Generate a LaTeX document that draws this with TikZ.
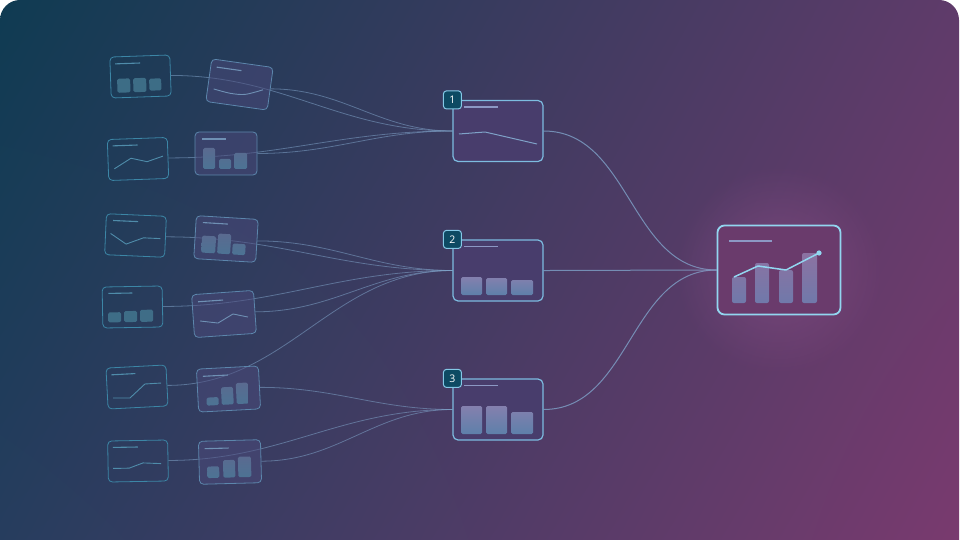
\documentclass[tikz,border=0pt]{standalone}
\usepackage{fontspec}
\setsansfont{Open Sans}
\usetikzlibrary{fadings}
\usetikzlibrary{shadings}
\usetikzlibrary{backgrounds}

\definecolor{bgul}{HTML}{0F3B52}
\definecolor{bgur}{HTML}{5F3B6A}
\definecolor{bgll}{HTML}{283D5F}
\definecolor{bglr}{HTML}{7B3A6F}
\definecolor{rawedge}{HTML}{3C86A6}
\definecolor{rawink}{HTML}{4F8CAA}
\definecolor{rawbar}{HTML}{43768F}
\definecolor{prepedge}{HTML}{5C86AC}
\definecolor{prepfill}{HTML}{4C4A7C}
\definecolor{prepink}{HTML}{6F90B4}
\definecolor{prepbartop}{HTML}{5A6A90}
\definecolor{prepbarbot}{HTML}{4C7394}
\definecolor{flowline}{HTML}{7FA2C8}
\definecolor{midedge}{HTML}{7DBCE0}
\definecolor{midfill}{HTML}{483D6C}
\definecolor{midink}{HTML}{8C98C4}
\definecolor{midbartop}{HTML}{8480AE}
\definecolor{midbarbot}{HTML}{5E80AA}
\definecolor{badgefill}{HTML}{0D4A63}
\definecolor{badgeedge}{HTML}{84C8E6}
\definecolor{resedge}{HTML}{92D6F0}
\definecolor{resfill}{HTML}{6A3B6C}
\definecolor{resbartop}{HTML}{8C72A2}
\definecolor{resbarbot}{HTML}{7079AA}
\definecolor{glow}{HTML}{A05A98}

\tikzfading[name=glowfade, inner color=transparent!60, outer color=transparent!100]

\tikzset{
  rawcard/.style={draw=rawedge, line width=0.8pt, rounded corners=4pt,
    minimum width=60pt, minimum height=41pt, inner sep=0pt},
  prepcard/.style={rawcard, draw=prepedge, fill=prepfill, fill opacity=0.5,
    minimum width=62pt, minimum height=43pt},
  midcard/.style={draw=midedge, line width=1.2pt, rounded corners=5pt, fill=midfill,
    minimum width=90pt, minimum height=61pt, inner sep=0pt},
  badge/.style={draw=badgeedge, fill=badgefill, line width=1pt, rounded corners=3pt,
    minimum size=18pt, inner sep=0pt, text=white,
    font=\sffamily\fontsize{10.5}{10.5}\selectfont},
  rescard/.style={draw=resedge, line width=1.8pt, rounded corners=7pt, fill=resfill,
    minimum width=123pt, minimum height=89pt, inner sep=0pt},
  flow/.style={draw=flowline, line width=0.8pt, draw opacity=0.55},
  feed/.style={draw=flowline, line width=1pt, draw opacity=0.8},
  rawtitle/.style={draw=rawink, line width=1.1pt},
  rawplot/.style={draw=rawink, line width=0.9pt, line join=round},
  rawbars/.style={fill=rawbar, fill opacity=0.85, rounded corners=1.5pt},
  preptitle/.style={draw=prepink, line width=1.1pt},
  prepplot/.style={draw=prepink, line width=0.9pt, line join=round},
  prepbars/.style={top color=prepbartop, bottom color=prepbarbot, rounded corners=1.5pt},
  midtitle/.style={draw=midink, line width=1.2pt},
  midplot/.style={draw=flowline, line width=1pt, line join=round},
  midbars/.style={top color=midbartop, bottom color=midbarbot, rounded corners=1.5pt},
  restitle/.style={draw=midink, line width=1.3pt},
  resbars/.style={top color=resbartop, bottom color=resbarbot, rounded corners=2pt},
  resplot/.style={draw=resedge, line width=1.5pt, line join=round},
}

\begin{document}
\begin{tikzpicture}[x=1pt, y=-1pt]
\useasboundingbox (0,0) rectangle (960,540);

% raw sources
\node[rawcard, rotate=2] (a1) at (140.5,76.5) {};
\begin{scope}[shift={(a1.center)}, rotate=2]
  \draw[rawtitle] (-25,-13.5) -- (0,-13.5);
  \fill[rawbars] (-23.5,1.5) rectangle (-10.5,15.5) (-7.5,1.5) rectangle (5.5,15.5) (8.5,2.5) rectangle (20.5,14.5);
\end{scope}
\node[rawcard, rotate=2] (a2) at (138,159) {};
\begin{scope}[shift={(a2.center)}, rotate=2]
  \draw[rawtitle] (-25,-14) -- (0,-14);
  \draw[rawplot] (-24,9) -- (-7,-1) -- (9,3) -- (25,-2);
\end{scope}
\node[rawcard, rotate=-2.5] (a3) at (135.5,235.5) {};
\begin{scope}[shift={(a3.center)}, rotate=-2.5]
  \draw[rawtitle] (-23,-14) -- (2,-14);
  \draw[rawplot] (-25,-1) -- (-9,9) -- (8,2) -- (25,2);
\end{scope}
\node[rawcard, rotate=1] (a4) at (132.5,307) {};
\begin{scope}[shift={(a4.center)}, rotate=1]
  \draw[rawtitle] (-24,-14) -- (0,-14);
  \fill[rawbars] (-24.5,5) rectangle (-11.5,15) (-8.5,4) rectangle (4.5,15) (7.5,3) rectangle (20.5,15);
\end{scope}
\node[rawcard, rotate=3] (a5) at (137,387) {};
\begin{scope}[shift={(a5.center)}, rotate=3]
  \draw[rawtitle] (-25,-13.5) -- (-1,-13.5);
  \draw[rawplot] (-24.5,9.7) -- (-7.6,10.6) -- (8.1,-2.6) -- (24.2,-2.7);
\end{scope}
\node[rawcard, rotate=1] (a6) at (138,461) {};
\begin{scope}[shift={(a6.center)}, rotate=1]
  \draw[rawtitle] (-25,-14) -- (0,-14);
  \draw[rawplot] (-25,7) -- (-9,7) -- (5,2) -- (23,3);
\end{scope}

% prepared sources
\node[prepcard, rotate=-8] (b1) at (239.5,84.5) {};
\begin{scope}[shift={(b1.center)}, rotate=-8]
  \draw[preptitle] (-25,-14) -- (0,-14);
  \draw[prepplot] plot[smooth] coordinates {(-25,8) (-8,10) (7,9) (24,2)};
\end{scope}
\node[prepcard] (b2) at (226,153.5) {};
\begin{scope}[shift={(b2.center)}]
  \draw[preptitle] (-24,-14.5) -- (0,-14.5);
  \shade[prepbars] (-23,-5.5) rectangle (-11,15.5) (-7,5.5) rectangle (5,15.5) (8,-0.5) rectangle (21,15.5);
\end{scope}
\node[prepcard, rotate=-3.5] (b3) at (226,239) {};
\begin{scope}[shift={(b3.center)}, rotate=-3.5]
  \draw[preptitle] (-24,-15) -- (1,-15);
  \shade[prepbars] (-24,-2) rectangle (-10,15) (-8,-5) rectangle (5,15) (7,4) rectangle (20,15);
\end{scope}
\node[prepcard, rotate=4] (b4) at (224,314) {};
\begin{scope}[shift={(b4.center)}, rotate=4]
  \draw[preptitle] (-25,-14) -- (0,-14);
  \draw[prepplot] (-24.4,5.3) -- (-6.6,8.6) -- (9,0.6) -- (23.7,4.7);
\end{scope}
\node[prepcard, rotate=3] (b5) at (228.5,389) {};
\begin{scope}[shift={(b5.center)}, rotate=3]
  \draw[preptitle] (-25,-14) -- (0,-14);
  \shade[prepbars] (-22.5,7.5) rectangle (-10.5,15.5) (-7.5,-2) rectangle (4.5,15.5) (7.5,-5.5) rectangle (19.5,15.5);
\end{scope}
\node[prepcard, rotate=1.5] (b6) at (230,462) {};
\begin{scope}[shift={(b6.center)}, rotate=1.5]
  \draw[preptitle] (-25,-14) -- (-1,-14);
  \shade[prepbars] (-23,4) rectangle (-11,15.5) (-7,-2) rectangle (5,15.5) (8,-5) rectangle (21,15.5);
\end{scope}

% numbered stages
\node[midcard] (m1) at (498,131) {};
\draw[midtitle] ([shift={(-34,-24)}]m1.center) -- ++(34,0);
\draw[midplot] ([shift={(-39,3)}]m1.center) -- ++(26,-2) -- ++(52,12);
\node[midcard] (m2) at (498,270.5) {};
\draw[midtitle] ([shift={(-34,-24)}]m2.center) -- ++(34,0);
\begin{scope}[shift={(m2.center)}]
  \shade[midbars] (-37,6.5) rectangle (-16,24.5) (-12,7.5) rectangle (9,24.5) (13,9.5) rectangle (35,24.5);
\end{scope}
\node[midcard] (m3) at (498,409.5) {};
\draw[midtitle] ([shift={(-34,-24)}]m3.center) -- ++(34,0);
\begin{scope}[shift={(m3.center)}]
  \shade[midbars] (-37,-3.5) rectangle (-16,24.5) (-12,-3.5) rectangle (9,24.5) (13,2.5) rectangle (35,24.5);
\end{scope}
\node[badge] (n1) at (m1.north west) {1};
\node[badge] (n2) at (m2.north west) {2};
\node[badge] (n3) at (m3.north west) {3};

% result
\coordinate (rc) at (779,270);
\fill[glow, path fading=glowfade] (rc) circle (105);
\node[rescard] (r) at (rc) {};
\begin{scope}[shift={(r.center)}]
  \draw[restitle] (-50,-29) -- (-7,-29);
  \shade[resbars] (-47,7) rectangle (-33,33) (-24,-7) rectangle (-10,33) (0,0) rectangle (14,33) (23,-17) rectangle (38,33);
  \draw[resplot] (-45,7) -- (-21,-4) -- (7,0) -- (40,-17);
  \fill[resedge] (40,-17) circle (2.6);
\end{scope}

\begin{scope}[on background layer]
  \begin{scope}
    \clip (0,0) rectangle (959,539);
    \shade[upper left=bgul, upper right=bgur, lower left=bgll, lower right=bglr]
      [rounded corners=20pt] (0,0) rectangle (959,580);
  \end{scope}
  \foreach \s/\t in {a1/m1,b1/m1,a2/m1,b2/m1,a3/m2,b3/m2,a4/m2,b4/m2,a5/m2,b5/m3,a6/m3,b6/m3}
    \draw[flow] (\s.east) to[out=0, in=180] (\t.west);
  \foreach \s in {m1,m2,m3}
    \draw[feed] (\s.east) to[out=0, in=180] (r.west);
\end{scope}
\end{tikzpicture}
\end{document}
